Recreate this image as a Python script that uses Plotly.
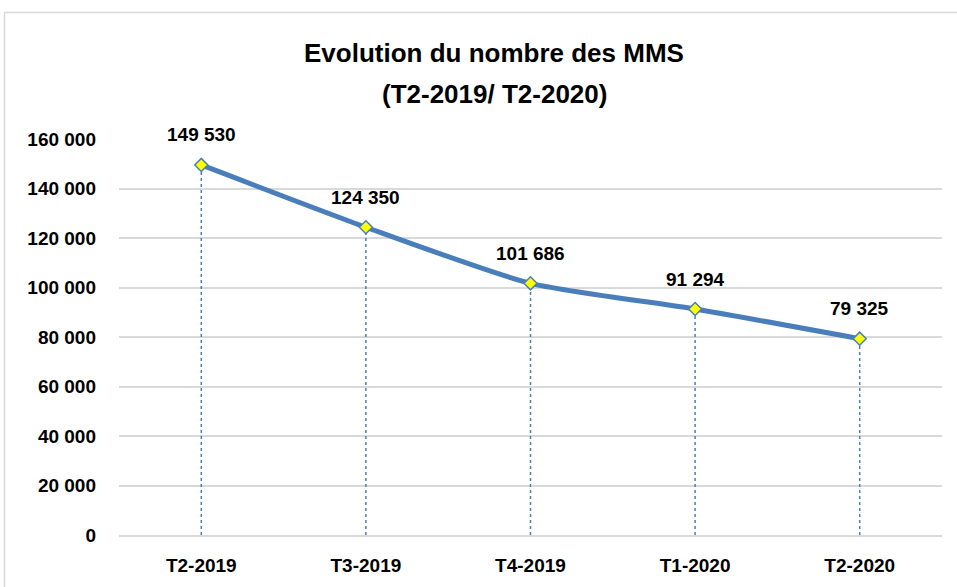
import plotly.graph_objects as go

categories = ["T2-2019", "T3-2019", "T4-2019", "T1-2020", "T2-2020"]
values = [149530, 124350, 101686, 91294, 79325]
labels = ["149 530", "124 350", "101 686", "91 294", "79 325"]
y_ticks = [0, 20000, 40000, 60000, 80000, 100000, 120000, 140000, 160000]
title_lines = ["Evolution du nombre des MMS", "(T2-2019/ T2-2020)"]

BLUE = "#4a7ebb"
FONT = "Liberation Sans, Arial, sans-serif"
W, H = 957, 587
L, R, T, B = 119, 15, 139, 52

fig = go.Figure()

# dotted drop lines
for c, v in zip(categories, values):
    fig.add_trace(go.Scatter(x=[c, c], y=[0, v], mode="lines",
                             line=dict(color=BLUE, width=1.5, dash="dot"),
                             hoverinfo="skip", showlegend=False))

fig.add_trace(go.Scatter(
    x=categories, y=values, mode="lines+markers",
    line=dict(color=BLUE, width=5, shape="spline", smoothing=0.6),
    marker=dict(symbol="diamond", size=10, color="#ffff00",
                line=dict(color=BLUE, width=1.5)),
    showlegend=False))

for c, v, t in zip(categories, values, labels):
    fig.add_annotation(x=c, y=v, text=t, showarrow=False, yshift=30,
                       font=dict(family=FONT, size=19, color="#000000", weight="bold"))

ph = H - T - B
pw = W - L - R
def py(pix):
    return (H - B - pix) / ph
def px(pix):
    return (pix - L) / pw

for line, cy in zip(title_lines, [53, 94]):
    fig.add_annotation(xref="paper", yref="paper", x=px(494), y=py(cy),
                       xanchor="center", yanchor="middle", showarrow=False,
                       text=line,
                       font=dict(family=FONT, size=26, color="#000000", weight="bold"))

fig.add_shape(type="rect", xref="paper", yref="paper",
              x0=px(4.5), x1=px(980), y0=py(600), y1=py(12.5),
              line=dict(color="#d9d9d9", width=1.5), fillcolor="rgba(0,0,0,0)",
              layer="below")

fig.update_layout(
    width=W, height=H,
    margin=dict(l=L, r=R, t=T, b=B),
    paper_bgcolor="white", plot_bgcolor="white",
    separators=". ",
    font=dict(family=FONT, color="#000000"),
)
fig.update_xaxes(
    range=[-0.5, 4.5], automargin=False,
    tickfont=dict(family=FONT, size=19, color="#000000", weight="bold"),
    showgrid=False, showline=True, linecolor="#d9d9d9", linewidth=1.5,
    ticks="", ticklabelstandoff=12, fixedrange=True,
)
fig.update_yaxes(
    range=[0, 160000], tickvals=y_ticks, tickformat=",d", automargin=False,
    tickfont=dict(family=FONT, size=19, color="#000000", weight="bold"),
    showgrid=True, gridcolor="#d9d9d9", gridwidth=1.5,
    zeroline=True, zerolinecolor="#d9d9d9", zerolinewidth=1.5,
    showline=False, ticks="", ticklabelstandoff=22, fixedrange=True,
)

fig.write_html("out.html", config={"displayModeBar": False},
               post_script="document.body.style.margin='0px';")
